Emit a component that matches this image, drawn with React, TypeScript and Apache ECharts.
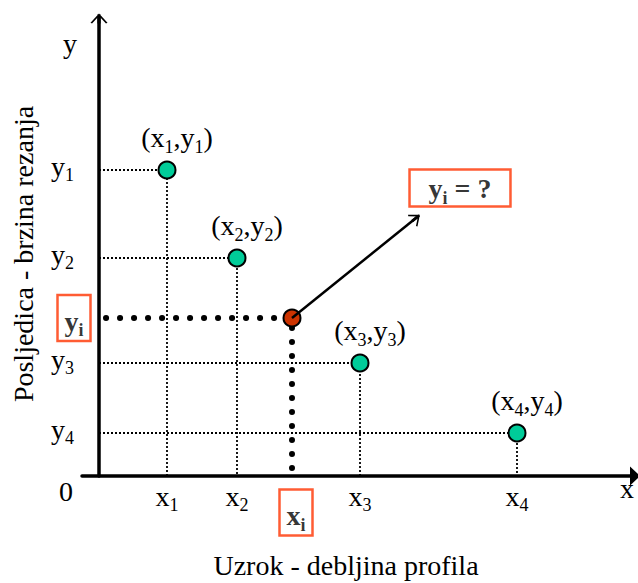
import React, { useEffect, useRef } from 'react';
import * as echarts from 'echarts';

// ---- data ----
const pointNames = ['1', '2', '3', '4'];
const pointX = [68, 138, 261, 418];
const pointY = [306, 218, 113, 43];
const queryName = 'i';
const queryX = 193;
const queryY = 158;
const arrowTip = [317, 258];
const answerAt = [361, 288];
const xAxisLetter = 'x';
const yAxisLetter = 'y';
const originLabel = '0';
const xTitle = 'Uzrok - debljina profila';
const yTitle = 'Posljedica - brzina rezanja';

// ---- styles ----
const FONT = '"Liberation Serif", "Times New Roman", serif';
const TEAL = '#00CC99';
const BRICK = '#CC3300';
const BOXRED = '#FF3300';
const CHEVRON = 'path://M10,0 L20,11 L18.2,12 L10,3 L1.8,12 L0,11 Z M8.2,1 L11.8,1 L11.8,12 L8.2,12 Z';

const rich: any = {
  n: { fontFamily: FONT, fontSize: 28, lineHeight: 36, color: '#000' },
  s: { fontFamily: FONT, fontSize: 18, lineHeight: 18, verticalAlign: 'bottom', color: '#000' },
  b: { fontFamily: FONT, fontSize: 28, lineHeight: 36, color: '#000', fontWeight: 'bold' },
  bs: { fontFamily: FONT, fontSize: 18, lineHeight: 18, verticalAlign: 'bottom', color: '#000', fontWeight: 'bold' },
};

export default function App() {
  const ref = useRef<HTMLDivElement>(null);
  useEffect(() => {
    if (!ref.current) return;
    const chart = echarts.init(ref.current, null, { renderer: 'svg' });

    const guideSeries = pointX.map((x, i) => ({
      type: 'line',
      data: [[0, pointY[i]], [x, pointY[i]], [x, 0]],
      symbol: 'none',
      silent: true,
      z: 1,
      lineStyle: { color: '#000', width: 1.8, type: [2, 2] },
    }));

    const hidden = { color: 'rgba(0,0,0,0)', borderWidth: 0 };

    const option: any = {
      animation: false,
      backgroundColor: '#fff',
      grid: { left: 82, right: 3, top: 18.5, bottom: 107, containLabel: false },
      xAxis: {
        type: 'value',
        min: -17,
        max: 536,
        splitLine: { show: false },
        axisTick: { show: false },
        axisLine: {
          onZero: true,
          lineStyle: { color: '#000', width: 3.5 },
          symbol: ['none', 'triangle'],
          symbolSize: [19, 10],
        },
        axisLabel: {
          customValues: pointX,
          margin: 2,
          fontFamily: FONT,
          fontSize: 28,
          lineHeight: 36,
          color: '#000',
          formatter: (v: number) => {
            const i = pointX.indexOf(v);
            return i < 0 ? '' : `{n|x}{s|${pointNames[i]}}`;
          },
          rich,
        },
      },
      yAxis: {
        type: 'value',
        min: 0,
        max: 457.5,
        splitLine: { show: false },
        axisTick: { show: false },
        axisLine: {
          onZero: true,
          lineStyle: { color: '#000', width: 3.5 },
          symbol: ['none', CHEVRON],
          symbolSize: [17, 11],
        },
        axisLabel: {
          customValues: pointY,
          margin: 8,
          padding: [0, 0, 8, 0],
          fontFamily: FONT,
          fontSize: 28,
          lineHeight: 36,
          color: '#000',
          formatter: (v: number) => {
            const i = pointY.indexOf(v);
            return i < 0 ? '' : `{n|y}{s|${pointNames[i]}}`;
          },
          rich,
        },
      },
      graphic: [
        { type: 'text', x: 70, y: 43, style: { text: yAxisLetter, fontFamily: FONT, fontSize: 28, fill: '#000', align: 'center', verticalAlign: 'middle' } },
        { type: 'text', x: 627, y: 488, style: { text: xAxisLetter, fontFamily: FONT, fontSize: 28, fill: '#000', align: 'center', verticalAlign: 'middle' } },
        { type: 'text', x: 66, y: 491, style: { text: originLabel, fontFamily: FONT, fontSize: 28, fill: '#000', align: 'center', verticalAlign: 'middle' } },
        { type: 'text', x: 346, y: 565, style: { text: xTitle, fontFamily: FONT, fontSize: 28, fill: '#000', align: 'center', verticalAlign: 'middle' } },
        { type: 'text', x: 23, y: 254, rotation: Math.PI / 2, style: { text: yTitle, fontFamily: FONT, fontSize: 28, fill: '#000', align: 'center', verticalAlign: 'middle' } },
      ],
      series: [
        ...guideSeries,
        {
          type: 'line',
          data: [[0, queryY], [queryX, queryY], [queryX, 0]],
          symbol: 'none',
          silent: true,
          z: 1,
          lineStyle: { color: '#000', width: 6, type: [0.1, 13.9], cap: 'round', dashOffset: 6.9 },
        },
        {
          type: 'scatter',
          z: 3,
          data: pointX.map((x, i) => [x, pointY[i]]),
          symbolSize: 17,
          itemStyle: { color: TEAL, borderColor: '#000', borderWidth: 2, opacity: 1 },
          label: {
            show: true,
            position: 'top',
            distance: 5,
            offset: [10, 0],
            formatter: (p: any) => {
              const k = pointNames[p.dataIndex];
              return `{n|(x}{s|${k}}{n|,y}{s|${k}}{n|)}`;
            },
            rich,
          },
        },
        {
          type: 'scatter',
          z: 3,
          data: [[queryX, queryY]],
          symbolSize: 17,
          itemStyle: { color: BRICK, borderColor: '#000', borderWidth: 2, opacity: 1 },
          markLine: {
            silent: true,
            z: 5,
            symbol: ['none', CHEVRON],
            symbolSize: [15, 10],
            label: { show: false },
            lineStyle: { color: '#000', width: 2.5, type: 'solid' },
            data: [[{ coord: [queryX, queryY] }, { coord: arrowTip }]],
          },
        },
        {
          type: 'scatter',
          z: 4,
          silent: true,
          data: [[queryX, 0]],
          symbolSize: 1,
          itemStyle: hidden,
          label: {
            show: true,
            position: 'bottom',
            distance: 13,
            offset: [4, 0],
            borderColor: BOXRED,
            borderWidth: 2.5,
            padding: [8, 7, 2, 7],
            formatter: `{b|x}{bs|${queryName}}`,
            rich,
          },
        },
        {
          type: 'scatter',
          z: 4,
          silent: true,
          data: [[0, queryY]],
          symbolSize: 1,
          itemStyle: hidden,
          label: {
            show: true,
            position: 'left',
            distance: 8,
            borderColor: BOXRED,
            borderWidth: 2.5,
            padding: [8, 7, 2, 7],
            formatter: `{b|y}{bs|${queryName}}`,
            rich,
          },
        },
        {
          type: 'scatter',
          z: 4,
          silent: true,
          data: [answerAt],
          symbolSize: 1,
          itemStyle: hidden,
          label: {
            show: true,
            position: 'inside',
            borderColor: BOXRED,
            borderWidth: 2.5,
            padding: [1, 19, 0, 19],
            formatter: `{b|y}{bs|${queryName}}{b| = ?}`,
            rich,
          },
        },
      ],
    };
    chart.setOption(option);
    return () => chart.dispose();
  }, []);
  return <div ref={ref} style={{ position: 'absolute', left: 0, top: 0, width: 638, height: 583 }} />;
}
